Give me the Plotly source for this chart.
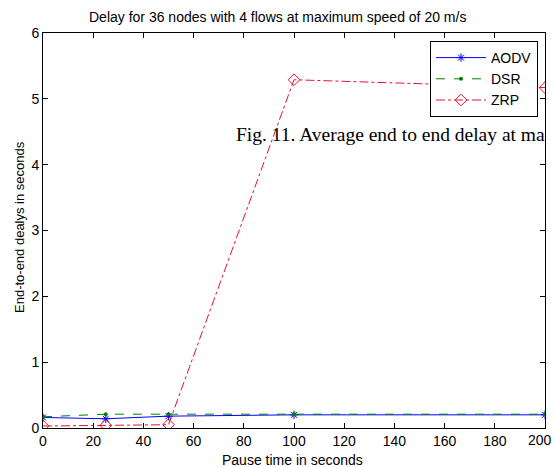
import plotly.graph_objects as go

pause = [0, 25, 50, 100, 200]
aodv = [0.16, 0.14, 0.18, 0.2, 0.2]
dsr = [0.17, 0.21, 0.21, 0.21, 0.21]
zrp = [0.03, 0.04, 0.05, 5.29, 5.17]

x_ticks = list(range(0, 201, 20))
y_ticks = list(range(0, 7))

FONT = "Liberation Sans, Arial"

fig = go.Figure()
fig.add_trace(go.Scatter(x=pause, y=aodv, name="AODV", mode="lines+markers",
                         line=dict(color="#0000ff", width=1),
                         marker=dict(symbol="asterisk-open", size=7, color="#0000ff",
                                     line=dict(color="#0000ff", width=1))))
fig.add_trace(go.Scatter(x=pause, y=dsr, name="DSR", mode="lines+markers",
                         line=dict(color="#008000", width=1, dash="dash"),
                         marker=dict(symbol="circle", size=4, color="#008000")))
fig.add_trace(go.Scatter(x=pause, y=zrp, name="ZRP", mode="lines+markers",
                         line=dict(color="#e8102a", width=1, dash="dashdot"),
                         marker=dict(symbol="diamond-open", size=9, color="#e8102a",
                                     line=dict(color="#e8102a", width=1))))

axis_common = dict(showgrid=False, zeroline=False, showline=True, linecolor="black",
                   linewidth=1, mirror="ticks", ticks="inside", ticklen=5,
                   tickcolor="black", automargin=False,
                   tickfont=dict(family=FONT, size=14, color="black"))

fig.update_layout(
    width=555, height=467,
    margin=dict(l=43, r=10, t=33, b=39),
    paper_bgcolor="white", plot_bgcolor="white",
    xaxis=dict(range=[0, 200], tickvals=x_ticks, **axis_common),
    yaxis=dict(range=[0, 6], tickvals=y_ticks, **axis_common),
    legend=dict(x=(538 - 43) / 502, y=(428 - 41) / 395, xanchor="right", yanchor="top",
                bordercolor="black", borderwidth=1, bgcolor="white",
                font=dict(family=FONT, size=14, color="black"),
                tracegroupgap=0, itemwidth=50),
    showlegend=True,
)

# last x tick label (plotly hides it at the edge)
fig.add_annotation(text=str(x_ticks[-1]), xref="x", yref="paper", x=x_ticks[-1],
                   y=(428 - 440) / 395, xanchor="center", yanchor="middle",
                   xshift=-5, showarrow=False,
                   font=dict(family=FONT, size=14, color="black"))

# title and axis titles
fig.add_annotation(text="Delay for 36 nodes with 4 flows at maximum speed of 20 m/s",
                   xref="paper", yref="paper", x=(277 - 43) / 502, y=(428 - 17) / 395,
                   xanchor="center", yanchor="middle", showarrow=False,
                   font=dict(family=FONT, size=14, color="black"))
fig.add_annotation(text="Pause time in seconds",
                   xref="paper", yref="paper", x=(292 - 43) / 502, y=(428 - 460) / 395,
                   xanchor="center", yanchor="middle", showarrow=False,
                   font=dict(family=FONT, size=14, color="black"))
fig.add_annotation(text="End-to-end dealys in seconds", textangle=-90,
                   xref="paper", yref="paper", x=(20 - 43) / 502, y=(428 - 227) / 395,
                   xanchor="center", yanchor="middle", showarrow=False,
                   font=dict(family=FONT, size=13, color="black"))

fig.add_annotation(text="Fig. 11. Average end to end delay at ma",
                   xref="paper", yref="paper", x=(234 - 43) / 502, y=(428 - 134) / 395,
                   xanchor="left", yanchor="middle", showarrow=False,
                   font=dict(family="Liberation Serif, Times New Roman", size=19.5, color="black"))

fig.write_html("out.html")
